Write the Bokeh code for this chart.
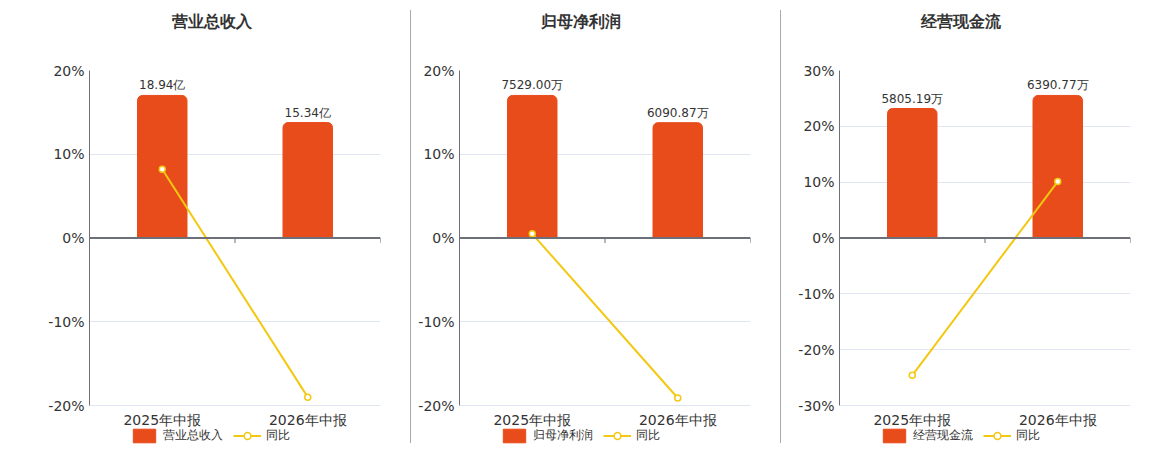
from bokeh.plotting import figure
from bokeh.models import (Range1d, FactorRange, Legend, LegendItem, FixedTicker, Span, Div)
from bokeh.layouts import row, column
from bokeh.embed import file_html
from bokeh.resources import INLINE
from bokeh.core.properties import value

# ---------------- data ----------------
categories = ["2025年中报", "2026年中报"]
titles = ["营业总收入", "归母净利润", "经营现金流"]
revenue = [18.94, 15.34]
revenue_labels = ["18.94亿", "15.34亿"]
net_profit = [7529.00, 6090.87]
net_profit_labels = ["7529.00万", "6090.87万"]
cash_flow = [5805.19, 6390.77]
cash_flow_labels = ["5805.19万", "6390.77万"]
revenue_yoy = [8.2, -19.0]
net_profit_yoy = [0.5, -19.1]
cash_flow_yoy = [-24.6, 10.1]
pct_limits = [20, 20, 30]
pct_step = 10
yoy_name = "同比"

# ---------------- style ----------------
FONT = "DejaVu Sans"
BAR_COLOR = "#E84C1B"
LINE_COLOR = "#F2C811"
TEXT = "#333333"
AXIS = "#6e7079"
GRID = "#e0e6f1"
BAR_HEADROOM = 1.175
TITLE_H = 44
FIG_H = 448 - TITLE_H
TOP = 70 - TITLE_H   # frame top inside the figure
AXIS_PX = 335        # pixel height of the -lim..lim band
EXT = (FIG_H - TOP - AXIS_PX) / AXIS_PX / 2   # extra room below for labels + legend

panels = [
    dict(width=410, bl=89, br=30, indent=172),
    dict(width=369, bl=48, br=30, indent=130),
    dict(width=373, bl=58, br=24, indent=140),
]

series = [
    (revenue, revenue_labels, revenue_yoy),
    (net_profit, net_profit_labels, net_profit_yoy),
    (cash_flow, cash_flow_labels, cash_flow_yoy),
]


def make_panel(i):
    vals, labels, yoy = series[i]
    lim = pct_limits[i]
    g = panels[i]
    p = figure(x_range=FactorRange(*categories),
               y_range=Range1d(-lim - 4 * lim * EXT, lim),
               width=g["width"], height=FIG_H,
               min_border_left=g["bl"], min_border_right=g["br"],
               min_border_top=TOP, min_border_bottom=0,
               output_backend="svg", toolbar_location=None)
    p.outline_line_color = None
    p.background_fill_color = "white"
    p.border_fill_color = "white"

    m = max(vals) * BAR_HEADROOM
    p.extra_y_ranges = {"bar": Range1d(-m - 4 * m * EXT, m)}

    ticks = list(range(-lim, lim + 1, pct_step))
    p.yaxis.ticker = FixedTicker(ticks=ticks)
    p.yaxis.bounds = (-lim, lim)
    p.yaxis.major_label_overrides = {t: f"{t}%" for t in ticks}
    p.yaxis.axis_line_color = AXIS
    p.yaxis.major_tick_line_color = None
    p.yaxis.minor_tick_line_color = None
    p.yaxis.major_tick_out = 0
    p.yaxis.major_label_standoff = 5
    p.yaxis.major_label_text_font_size = "14px"
    p.yaxis.major_label_text_color = TEXT
    p.yaxis.major_label_text_font = FONT
    p.ygrid.ticker = FixedTicker(ticks=ticks)
    p.ygrid.grid_line_color = GRID
    p.xgrid.visible = False

    p.xaxis.fixed_location = -lim
    p.xaxis.axis_line_color = None
    p.xaxis.major_tick_line_color = None
    p.xaxis.minor_tick_line_color = None
    p.xaxis.major_tick_out = 0
    p.xaxis.major_label_standoff = 6
    p.xaxis.major_label_text_font_size = "14px"
    p.xaxis.major_label_text_color = TEXT
    p.xaxis.major_label_text_font = FONT

    # zero axis line and category boundary ticks
    p.add_layout(Span(location=0, dimension="width", line_color=AXIS, line_width=2))
    bounds = list(range(len(categories) + 1))
    p.segment(x0=bounds, y0=[0] * len(bounds), x1=bounds,
              y1=[-lim * 0.03] * len(bounds), line_color=AXIS, line_width=1)

    bar = p.vbar(x=categories, top=vals, width=0.34, y_range_name="bar",
                 fill_color=BAR_COLOR, line_color=BAR_COLOR,
                 border_radius=(5, 5, 0, 0))
    p.text(x=categories, y=vals, text=labels, y_range_name="bar",
           text_align="center", text_baseline="bottom", y_offset=-3,
           text_font_size="12px", text_color=TEXT, text_font=value(FONT))

    ln = p.line(x=categories, y=yoy, line_color=LINE_COLOR, line_width=2)
    sc = p.scatter(x=categories, y=yoy, size=6, fill_color="white",
                   line_color=LINE_COLOR, line_width=1.5)

    legend = Legend(items=[LegendItem(label=titles[i], renderers=[bar]),
                           LegendItem(label=yoy_name, renderers=[ln, sc])],
                    orientation="horizontal", location=(41, 4),
                    glyph_width=28, glyph_height=17, label_standoff=5,
                    spacing=10, padding=0, margin=0,
                    label_text_font_size="12px", label_text_color=TEXT,
                    label_text_font=FONT, label_height=17,
                    border_line_color=None, background_fill_alpha=0)
    p.add_layout(legend, "center")

    title = Div(text=titles[i], width=g["width"], height=TITLE_H, margin=0,
                styles={"font-size": "16px", "font-weight": "bold",
                        "color": TEXT, "font-family": FONT,
                        "line-height": f"{TITLE_H}px",
                        "text-indent": f"{g['indent']}px",
                        "white-space": "nowrap"})
    return column(title, p, spacing=0)


def separator():
    return Div(width=1, height=433, margin=(10, 0, 0, 0),
               styles={"background-color": "#aaaaaa"})


cols = [make_panel(i) for i in range(3)]
layout = row(cols[0], separator(), cols[1], separator(), cols[2])

open("out.html", "w").write(file_html(layout, INLINE))
